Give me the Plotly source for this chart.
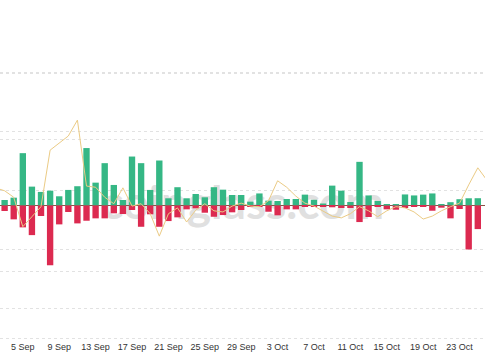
import pandas as pd
import plotly.graph_objects as go

# ---- data ----
bar_dates = pd.date_range("2023-09-03", "2023-10-25", freq="D")
price_dates = pd.date_range("2023-09-02", "2023-10-26", freq="D")

green_values = [8.3, 11.8, 79, 28.5, 20.5, 22.4, 13.9, 23.5, 29.1, 86.7,
                34.5, 63.9, 31, 8.3, 73.9, 63.9, 23.5, 67.9, 10.9, 27.6,
                10.9, 17.4, 12.4, 27.6, 23.9, 15.9, 15.9, 5.8, 18.2, 7.3,
                6.8, 9.8, 9.8, 16.4, 8.6, 3, 30, 22.4, 5.3, 65.9,
                15.2, 6.8, 2.3, 1.5, 16.7, 15.2, 16.4, 18.2, 2.3, 5,
                9.5, 10.9, 11]

red_values = [-8.3, -20.9, -33, -44.7, -15.9, -90.2, -28.5, -9.8, -27, -23,
              -19.4, -19.4, -11.8, -12.9, -6.8, -32.1, -13.3, -32.1, -23.5, -17.9,
              -5.8, -4.2, -10.9, -17, -14.4, -10.3, -6.8, -2.3, -2.3, -9.4,
              -14.8, -5.8, -5.8, -1.8, -0.8, -1.8, -2.7, -3.8, -3.8, -25,
              -17.4, -0.8, -5.8, -6.4, -3.8, -2.3, -2.3, -7.9, -3.3, -19.4,
              -5.3, -66.4, -35.6]

price_values = [27050, 27000, 26890, 26390, 26560, 26730, 27690, 27810, 27930, 28200,
                27080, 27060, 26890, 26780, 27050, 26740, 26780, 26610, 26230, 26610,
                26710, 26470, 26670, 26780, 26660, 26640, 26740, 26790, 26740, 26730,
                26830, 27170, 27060, 26910, 26790, 26740, 26660, 26570, 26540, 26610,
                26730, 26660, 26560, 26660, 26730, 26710, 26640, 26520, 26570, 26660,
                26730, 26790, 27100, 27390, 27180]

tick_dates = ["2023-09-05", "2023-09-09", "2023-09-13", "2023-09-17", "2023-09-21",
              "2023-09-25", "2023-09-29", "2023-10-03", "2023-10-07", "2023-10-11",
              "2023-10-15", "2023-10-19", "2023-10-23"]
tick_labels = ["5 Sep", "9 Sep", "13 Sep", "17 Sep", "21 Sep", "25 Sep", "29 Sep",
               "3 Oct", "7 Oct", "11 Oct", "15 Oct", "19 Oct", "23 Oct"]

GREEN = "#35b785"
RED = "#dc2a50"
LINE = "#ebcb85"
GRID = "#e2e2e2"

fig = go.Figure()
fig.add_trace(go.Bar(x=bar_dates, y=green_values, marker=dict(color=GREEN, line=dict(width=0)),
                     name="Short", hoverinfo="x+y"))
fig.add_trace(go.Bar(x=bar_dates, y=red_values, marker=dict(color=RED, line=dict(width=0)),
                     name="Long", hoverinfo="x+y"))
fig.add_trace(go.Scatter(x=price_dates, y=price_values, mode="lines", yaxis="y2",
                         line=dict(color=LINE, width=1), name="Price"))

fig.update_layout(
    width=485, height=360,
    margin=dict(l=0, r=0, t=71, b=20),
    paper_bgcolor="white", plot_bgcolor="white",
    showlegend=False,
    barmode="relative", bargap=0.3,
    font=dict(family="Liberation Sans, Arial, sans-serif", color="#333333"),
    xaxis=dict(type="date", range=["2023-09-02 11:50", "2023-10-25 19:00"],
               tickmode="array", tickvals=tick_dates, ticktext=tick_labels,
               showgrid=False, zeroline=False, showline=False, ticks="",
               tickfont=dict(size=9, color="#333333")),
    yaxis=dict(range=[-203, 203], dtick=100, showgrid=True, gridcolor=GRID,
               griddash="dot", gridwidth=1, zeroline=True, zerolinecolor="#8a5045",
               zerolinewidth=1, showticklabels=False, ticks=""),
    yaxis2=dict(overlaying="y", side="right", range=[24466, 29034], tick0=0, dtick=1000,
                showgrid=True, gridcolor=GRID, griddash="dot", gridwidth=1,
                zeroline=False, showticklabels=False, ticks=""),
    shapes=[dict(type="rect", xref="paper", yref="paper", x0=0.15, x1=0.85,
                 y0=0.42, y1=0.62, line=dict(width=0), fillcolor="rgba(0,0,0,0)",
                 layer="below",
                 label=dict(text="coinglass.com", textposition="middle center",
                            font=dict(size=46, color="#e0e0e0",
                                      family="Lato, Noto Sans, sans-serif", weight=700)))],
)

fig.write_html("out.html", config={"displayModeBar": False},
               post_script="document.body.style.margin='0';")
